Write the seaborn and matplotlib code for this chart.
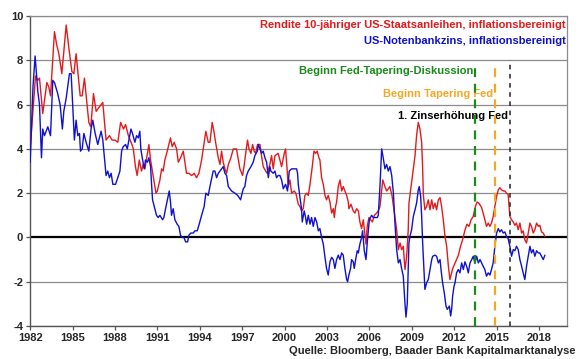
import matplotlib
matplotlib.use('Agg')

import pandas as pd
import matplotlib.pyplot as plt
import seaborn as sns

# --- Data (decimal years, percent) ---
red_years = [
    1982.0, 1982.14, 1982.38, 1982.54, 1982.66, 1982.89, 1983.18, 1983.32, 1983.44, 1983.72,
    1983.88, 1984.03, 1984.24, 1984.55, 1984.73, 1984.95, 1985.09, 1985.25, 1985.54, 1985.68,
    1985.84, 1986.15, 1986.29, 1986.48, 1986.67, 1986.9, 1987.14, 1987.37, 1987.61, 1987.8,
    1988.0, 1988.2, 1988.4, 1988.6, 1988.75, 1988.95, 1989.2, 1989.3, 1989.45, 1989.57,
    1989.72, 1989.88, 1990.0, 1990.12, 1990.3, 1990.4, 1990.52, 1990.7, 1990.9, 1991.0,
    1991.18, 1991.3, 1991.41, 1991.53, 1991.7, 1991.81, 1991.93, 1992.05, 1992.19, 1992.36,
    1992.48, 1992.64, 1992.83, 1992.95, 1993.06, 1993.23, 1993.42, 1993.61, 1993.77, 1993.94,
    1994.13, 1994.31, 1994.43, 1994.6, 1994.72, 1994.88, 1995.0, 1995.12, 1995.31, 1995.43,
    1995.54, 1995.66, 1995.78, 1995.9, 1996.02, 1996.2, 1996.37, 1996.6, 1996.84, 1997.03,
    1997.15, 1997.27, 1997.38, 1997.48, 1997.62, 1997.74, 1997.85, 1997.95, 1998.09, 1998.26,
    1998.37, 1998.49, 1998.66, 1998.77, 1998.96, 1999.08, 1999.2, 1999.32, 1999.55, 1999.67,
    1999.79, 1999.98, 2000.07, 2000.19, 2000.26, 2000.38, 2000.5, 2000.68, 2000.8, 2000.97,
    2001.09, 2001.2, 2001.32, 2001.44, 2001.56, 2001.68, 2001.8, 2001.96, 2002.08, 2002.2,
    2002.31, 2002.43, 2002.5, 2002.62, 2002.74, 2002.86, 2002.97, 2003.09, 2003.21, 2003.33,
    2003.45, 2003.52, 2003.61, 2003.68, 2003.8, 2003.92, 2004.04, 2004.15, 2004.27, 2004.39,
    2004.51, 2004.55, 2004.7, 2004.86, 2004.98, 2005.1, 2005.22, 2005.33, 2005.45, 2005.57,
    2005.69, 2005.76, 2005.85, 2005.97, 2006.09, 2006.21, 2006.35, 2006.51, 2006.63, 2006.75,
    2006.85, 2006.95, 2007.1, 2007.22, 2007.34, 2007.45, 2007.6, 2007.75, 2007.93, 2008.05,
    2008.17, 2008.28, 2008.4, 2008.52, 2008.64, 2008.75, 2008.8, 2008.87, 2008.99, 2009.11,
    2009.23, 2009.34, 2009.46, 2009.58, 2009.7, 2009.77, 2009.82, 2009.93, 2010.05, 2010.17,
    2010.29, 2010.41, 2010.52, 2010.64, 2010.76, 2010.88, 2011.0, 2011.11, 2011.23, 2011.35,
    2011.47, 2011.59, 2011.7, 2011.9, 2012.1, 2012.3, 2012.45, 2012.6, 2012.75, 2012.9,
    2013.05, 2013.2, 2013.35, 2013.5, 2013.62, 2013.75, 2013.94, 2014.05, 2014.17, 2014.29,
    2014.41, 2014.53, 2014.64, 2014.76, 2014.88, 2015.0, 2015.12, 2015.23, 2015.35, 2015.47,
    2015.59, 2015.7, 2015.82, 2015.94, 2016.06, 2016.18, 2016.29, 2016.41, 2016.53, 2016.65,
    2016.77, 2016.88, 2017.0, 2017.12, 2017.24, 2017.36, 2017.47, 2017.59, 2017.71, 2017.83,
    2017.95, 2018.06, 2018.18, 2018.3, 2018.42,
]
red_vals = [
    4.0, 5.2, 7.3, 7.1, 7.2, 5.6, 7.0, 6.8, 6.4, 9.3,
    8.7, 8.3, 7.4, 9.6, 8.6, 7.5, 7.4, 8.3, 6.4, 6.4,
    7.2, 5.2, 5.0, 6.5, 5.7, 5.9, 6.1, 4.4, 4.6, 4.4,
    4.4, 4.3, 5.2, 4.9, 5.1, 4.6, 4.2, 4.0, 3.2, 2.8,
    3.5, 3.0, 3.3, 3.1, 3.8, 4.2, 3.5, 2.8, 2.0, 2.1,
    2.6, 3.1, 3.0, 3.5, 3.9, 4.2, 4.5, 4.1, 4.3, 4.0,
    3.4, 3.6, 3.9, 3.4, 2.9, 2.9, 2.8, 2.9, 2.7, 2.9,
    3.5, 4.3, 4.8, 4.3, 4.3, 5.2, 4.8, 4.3, 3.6, 3.3,
    3.9, 3.4, 3.1, 2.9, 3.3, 3.6, 4.0, 4.0, 3.1, 2.8,
    3.3, 3.9, 4.4, 4.0, 3.8, 4.2, 3.9, 3.8, 4.2, 4.2,
    3.7, 3.2, 3.0, 2.9, 3.3, 3.7, 3.1, 3.7, 3.8, 3.5,
    3.2, 3.8, 4.0, 3.0, 2.3, 2.6, 2.0, 2.1, 2.0, 1.5,
    1.4, 1.2, 1.3, 1.9, 2.0, 1.9, 2.4, 3.2, 3.9, 3.8,
    3.9, 3.6, 3.5, 2.7, 2.4, 1.9, 1.7, 1.9, 1.6, 1.1,
    1.3, 0.9, 1.4, 1.6, 2.3, 2.6, 2.1, 2.3, 2.1, 1.9,
    1.6, 1.3, 1.5, 1.2, 1.1, 1.3, 1.2, 0.7, 0.4, 0.8,
    0.1, -0.3, 0.5, 0.9, 0.8, 0.7, 1.0, 1.1, 1.2, 1.4,
    2.0, 2.6, 2.3, 2.1, 2.2, 2.3, 1.9, 1.2, 0.35, -0.55,
    -0.25, -0.55, -0.4, -1.45, -0.85, 0.35, 1.55, 1.9, 2.5, 3.1,
    3.7, 4.6, 5.2, 4.9, 4.3, 3.1, 1.9, 1.25, 1.4, 1.7,
    1.25, 1.7, 1.3, 1.55, 1.25, 1.7, 1.8, 1.4, 0.8, 0.05,
    -0.4, -1.3, -1.9, -1.4, -1.1, -0.8, -0.4, -0.1, 0.3, 0.6,
    0.5, 0.8, 0.95, 1.4, 1.6, 1.55, 1.35, 1.1, 0.8, 0.5,
    0.65, 0.5, 0.65, 0.95, 1.4, 1.85, 2.15, 2.25, 2.15, 2.1,
    2.1, 2.0, 1.95, 0.95, 0.8, 0.7, 0.55, 0.65, 0.35, 0.65,
    0.2, 0.3, -0.1, -0.25, 0.2, 0.65, 0.5, 0.2, 0.35, 0.65,
    0.5, 0.55, 0.25, 0.2, 0.05,
]

blue_years = [
    1982.0, 1982.2, 1982.35, 1982.54, 1982.66, 1982.8, 1982.89, 1983.01, 1983.25, 1983.44,
    1983.6, 1983.72, 1983.95, 1984.12, 1984.28, 1984.38, 1984.55, 1984.78, 1984.9, 1985.02,
    1985.13, 1985.25, 1985.37, 1985.49, 1985.56, 1985.68, 1985.8, 1985.96, 1986.15, 1986.31,
    1986.43, 1986.6, 1986.78, 1986.9, 1987.02, 1987.14, 1987.21, 1987.37, 1987.49, 1987.61,
    1987.73, 1987.85, 1988.04, 1988.2, 1988.35, 1988.47, 1988.58, 1988.75, 1988.87, 1989.13,
    1989.24, 1989.41, 1989.53, 1989.65, 1989.76, 1989.83, 1989.93, 1990.07, 1990.16, 1990.3,
    1990.4, 1990.52, 1990.59, 1990.66, 1990.78, 1990.94, 1991.06, 1991.18, 1991.37, 1991.46,
    1991.58, 1991.77, 1991.84, 1991.93, 1992.0, 1992.12, 1992.24, 1992.4, 1992.52, 1992.64,
    1992.76, 1992.88, 1993.0, 1993.14, 1993.23, 1993.37, 1993.54, 1993.65, 1993.82, 1993.96,
    1994.13, 1994.31, 1994.43, 1994.6, 1994.72, 1994.88, 1994.95, 1995.07, 1995.19, 1995.31,
    1995.43, 1995.66, 1995.78, 1995.9, 1996.02, 1996.25, 1996.49, 1996.68, 1996.89, 1996.96,
    1997.08, 1997.19, 1997.31, 1997.43, 1997.62, 1997.78, 1997.9, 1998.07, 1998.14, 1998.26,
    1998.37, 1998.49, 1998.61, 1998.73, 1998.85, 1998.96, 1999.03, 1999.2, 1999.32, 1999.43,
    1999.55, 1999.67, 1999.79, 1999.91, 2000.07, 2000.21, 2000.33, 2000.5, 2000.85, 2000.92,
    2000.97, 2001.09, 2001.2, 2001.25, 2001.39, 2001.49, 2001.56, 2001.68, 2001.8, 2001.91,
    2002.03, 2002.15, 2002.27, 2002.39, 2002.5, 2002.62, 2002.74, 2002.86, 2002.97, 2003.09,
    2003.21, 2003.33, 2003.45, 2003.56, 2003.68, 2003.8, 2003.92, 2004.04, 2004.15, 2004.27,
    2004.39, 2004.46, 2004.55, 2004.67, 2004.74, 2004.86, 2004.93, 2005.03, 2005.14, 2005.22,
    2005.33, 2005.45, 2005.52, 2005.64, 2005.76, 2005.88, 2006.0, 2006.16, 2006.28, 2006.4,
    2006.56, 2006.63, 2006.75, 2006.87, 2006.98, 2007.1, 2007.22, 2007.34, 2007.46, 2007.58,
    2007.7, 2007.81, 2007.93, 2008.05, 2008.17, 2008.28, 2008.4, 2008.52, 2008.59, 2008.68,
    2008.75, 2008.8, 2008.87, 2008.99, 2009.11, 2009.23, 2009.34, 2009.46, 2009.53, 2009.63,
    2009.7, 2009.77, 2009.86, 2009.93, 2010.05, 2010.17, 2010.29, 2010.41, 2010.48, 2010.64,
    2010.76, 2010.88, 2011.0, 2011.07, 2011.18, 2011.3, 2011.42, 2011.51, 2011.66, 2011.75,
    2011.82, 2011.89, 2011.99, 2012.06, 2012.17, 2012.29, 2012.41, 2012.53, 2012.65, 2012.76,
    2012.88, 2013.0, 2013.12, 2013.24, 2013.35, 2013.47, 2013.59, 2013.71, 2013.83, 2013.94,
    2014.05, 2014.17, 2014.29, 2014.41, 2014.53, 2014.64, 2014.76, 2014.88, 2015.0, 2015.12,
    2015.23, 2015.35, 2015.47, 2015.59, 2015.7, 2015.82, 2015.94, 2016.06, 2016.18, 2016.29,
    2016.41, 2016.53, 2016.65, 2016.77, 2016.88, 2017.0, 2017.12, 2017.24, 2017.36, 2017.47,
    2017.59, 2017.71, 2017.83, 2017.95, 2018.06, 2018.18, 2018.3, 2018.42,
]
blue_vals = [
    3.4, 6.8, 8.2, 6.6, 6.0, 3.6, 4.9, 4.6, 5.0, 4.6,
    7.1, 7.0, 6.5, 6.0, 4.9, 5.7, 6.3, 7.4, 7.4, 5.8,
    4.4, 5.3, 4.6, 4.7, 3.9, 4.0, 4.7, 4.3, 3.9, 4.9,
    5.3, 4.7, 4.2, 4.5, 4.8, 4.4, 3.9, 2.8, 3.0, 2.7,
    2.9, 2.4, 2.4, 2.7, 3.0, 3.9, 4.1, 4.2, 4.0, 4.9,
    4.7, 4.3, 4.6, 4.5, 4.8, 4.0, 3.6, 3.1, 3.5, 3.4,
    3.6, 3.2, 2.4, 1.7, 1.4, 1.0, 0.9, 1.0, 0.8, 0.9,
    1.3, 1.9, 2.1, 1.6, 1.0, 1.3, 0.8, 0.6, 0.5, 0.1,
    0.0, 0.0, -0.2, -0.2, 0.1, 0.2, 0.2, 0.3, 0.3, 0.6,
    1.0, 1.4, 2.0, 1.9, 2.3, 2.8, 3.0, 3.0, 2.7, 2.9,
    3.0, 3.2, 2.9, 2.8, 2.3, 2.1, 2.0, 1.9, 1.7, 1.9,
    2.2, 2.3, 2.8, 3.0, 3.2, 3.4, 3.7, 3.9, 4.2, 4.0,
    3.8, 3.9, 3.6, 3.4, 2.7, 3.2, 3.0, 2.9, 3.0, 2.7,
    2.8, 2.8, 2.6, 2.2, 2.4, 2.1, 3.0, 3.1, 3.1, 2.9,
    2.4, 1.8, 1.3, 0.7, 1.2, 0.9, 0.6, 1.0, 0.6, 0.9,
    0.5, 0.9, 0.7, 0.3, 0.4, 0.0, -0.3, -0.9, -1.4, -1.7,
    -1.1, -0.9, -1.0, -1.4, -1.0, -0.8, -1.0, -0.7, -0.8, -1.4,
    -1.9, -2.0, -1.7, -1.4, -1.0, -1.1, -1.4, -1.0, -0.6, -0.7,
    -0.3, 0.0, 0.3, -0.6, -1.0, 0.0, 0.8, 1.0, 0.9, 0.9,
    0.9, 1.0, 2.3, 4.0, 3.6, 3.1, 3.3, 3.0, 3.2, 2.8,
    2.0, 0.65, -0.55, -1.15, -1.0, -1.4, -1.75, -3.0, -3.6, -3.0,
    -1.45, -0.25, 0.05, 0.35, 0.95, 1.25, 1.55, 2.15, 2.3, 1.85,
    0.95, -0.25, -1.45, -2.35, -2.05, -1.9, -1.45, -1.0, -0.85, -0.8,
    -0.85, -1.15, -1.0, -1.45, -2.05, -2.5, -3.1, -3.25, -3.1, -3.55,
    -3.25, -2.65, -2.2, -2.05, -1.6, -1.45, -1.6, -1.15, -1.45, -1.1,
    -1.3, -1.6, -1.15, -1.0, -0.85, -1.15, -0.85, -1.15, -1.0, -1.15,
    -1.3, -1.45, -1.75, -1.6, -1.7, -1.45, -1.15, -0.4, 0.2, 0.4,
    0.25, 0.35, 0.2, 0.25, 0.05, -0.05, -0.4, -0.85, -0.55, -0.6,
    -0.4, -0.55, -1.0, -1.3, -1.6, -1.9, -1.3, -0.85, -0.4, -0.7,
    -0.55, -0.85, -0.6, -0.7, -0.7, -0.85, -1.0, -0.8,
]

year_ticks = list(range(1982, 2019, 3))
value_ticks = list(range(-4, 11, 2))

# event markers (decimal year)
event_names = ["Beginn Fed-Tapering-Diskussion", "Beginn Tapering Fed", "1. Zinserhöhung Fed"]
event_years = [2013.45, 2014.88, 2015.92]

RED = "#e31a1c"
BLUE = "#1010d0"
GREEN = "#1a8a1a"
ORANGE = "#f5a623"

df_red = pd.DataFrame({"Jahr": red_years, "Wert": red_vals})
df_blue = pd.DataFrame({"Jahr": blue_years, "Wert": blue_vals})

sns.set_style("ticks")
plt.rcParams['font.family'] = ['Liberation Sans', 'DejaVu Sans']
plt.rcParams['font.weight'] = 'bold'
plt.rcParams['axes.unicode_minus'] = False

fig, ax = plt.subplots(figsize=(5.8, 3.59), dpi=100)
fig.subplots_adjust(left=0.052, right=0.978, top=0.955, bottom=0.092)

# grid + zero line
for v in value_ticks:
    if v != 0:
        ax.axhline(v, color="#8c8c8c", lw=0.9, zorder=1)
ax.axhline(0, color="black", lw=1.6, zorder=2)

sns.lineplot(data=df_red, x="Jahr", y="Wert", color=RED, lw=1.0,
             estimator=None, sort=False, ax=ax, zorder=3)
sns.lineplot(data=df_blue, x="Jahr", y="Wert", color=BLUE, lw=1.0,
             estimator=None, sort=False, ax=ax, zorder=4)

# event lines
ax.vlines(event_years[0], -4, 7.9, colors=GREEN, linestyles=(0, (4, 3)), lw=1.6, zorder=5)
ax.vlines(event_years[1], -4, 7.9, colors=ORANGE, linestyles=(0, (4, 3)), lw=1.6, zorder=5)
ax.vlines(event_years[2], -4, 8.0, colors="#222222", linestyles=(0, (3, 3)), lw=1.1, zorder=5)

ax.text(event_years[0] - 0.1, 7.54, event_names[0], color=GREEN, ha="right", va="center",
        fontsize=8, fontweight="bold")
ax.text(event_years[1] - 0.1, 6.5, event_names[1], color=ORANGE, ha="right", va="center",
        fontsize=8, fontweight="bold")
ax.text(event_years[2] - 0.1, 5.5, event_names[2], color="black", ha="right", va="center",
        fontsize=8, fontweight="bold")

# legend as coloured text
ax.text(2019.9, 9.58, "Rendite 10-jähriger US-Staatsanleihen, inflationsbereinigt",
        color=RED, ha="right", va="center", fontsize=8, fontweight="bold")
ax.text(2019.9, 8.86, "US-Notenbankzins, inflationsbereinigt",
        color=BLUE, ha="right", va="center", fontsize=8, fontweight="bold")

fig.text(0.993, 0.022, "Quelle: Bloomberg, Baader Bank Kapitalmarktanalyse",
         ha="right", va="center", fontsize=8, fontweight="bold")

ax.set_xlim(1982, 2020)
ax.set_ylim(-4, 10)
ax.set_xticks(year_ticks)
ax.set_yticks(value_ticks)
ax.tick_params(axis="both", labelsize=8, length=3, width=0.9, color="#555555", pad=2)
ax.set_xlabel("")
ax.set_ylabel("")
for s in ["left", "bottom"]:
    ax.spines[s].set_color("#555555")
    ax.spines[s].set_linewidth(1.0)
for s in ["top", "right"]:
    ax.spines[s].set_color("#8c8c8c")
    ax.spines[s].set_linewidth(0.9)

plt.savefig("out.png", dpi=100)
